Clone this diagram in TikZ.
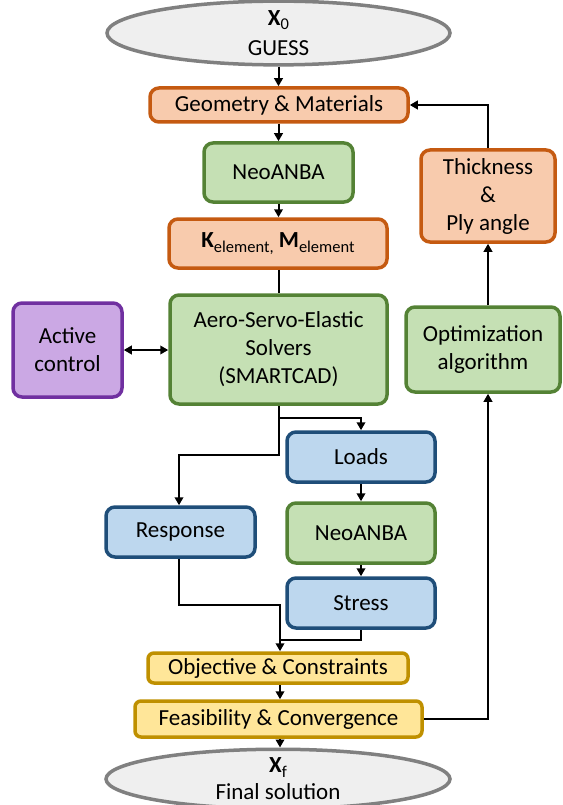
\documentclass[tikz,border=0pt]{standalone}
\usepackage{fontspec}
\setmainfont{Carlito}
\usetikzlibrary{shapes.geometric,arrows.meta}
\definecolor{orF}{HTML}{F8CBAD}\definecolor{orD}{HTML}{C55A11}
\definecolor{grF}{HTML}{C5E0B4}\definecolor{grD}{HTML}{548235}
\definecolor{blF}{HTML}{BDD7EE}\definecolor{blD}{HTML}{1F4E79}
\definecolor{puF}{HTML}{CBA8E4}\definecolor{puD}{HTML}{7030A0}
\definecolor{yeF}{HTML}{FFE699}\definecolor{yeD}{HTML}{BF9000}
\definecolor{elF}{HTML}{EFEFEF}\definecolor{elD}{HTML}{808080}
\newcommand{\mybox}[7]{\node[#6, minimum width={#4-#2}, minimum height={#5-#3}] (#1) at ({(#2+#4)/2},{(#3+#5)/2}) {#7};}
\newcommand{\sbs}[1]{\raisebox{-0.4ex}{\fontsize{16.5}{16.5}\selectfont #1}}
\begin{document}
\begin{tikzpicture}[x=1pt,y=-1pt,
  base/.style={draw, rounded corners=9pt, line width=3.5pt, align=center, inner sep=0pt, font=\fontsize{23}{28}\selectfont},
  orbox/.style={base, fill=orF, draw=orD},
  grbox/.style={base, fill=grF, draw=grD},
  blbox/.style={base, fill=blF, draw=blD},
  pubox/.style={base, fill=puF, draw=puD},
  yebox/.style={base, fill=yeF, draw=yeD, rounded corners=6pt},
  ell/.style={ellipse, draw=elD, fill=elF, line width=3.5pt, inner sep=0pt, align=center, font=\fontsize{23}{30}\selectfont},
  conn/.style={line width=2pt, -{Triangle[length=8pt,width=8.5pt]}},
  line/.style={line width=2pt}]
\useasboundingbox (0,0) rectangle (562,805);
\node[ell, minimum width=343, minimum height=56] (x0) at (278.5,33) {\textbf{X}\sbs{0}\\GUESS};
\mybox{geo}{150}{88}{408}{122}{orbox}{Geometry \& Materials}
\mybox{neo}{204}{143}{353}{202}{grbox}{NeoANBA}
\mybox{km}{169}{219}{387}{268}{orbox}{\textbf{K}\sbs{element,} \textbf{M}\sbs{element}}
\mybox{aero}{170}{295}{387}{404}{grbox}{Aero-Servo-Elastic\\Solvers\\(SMARTCAD)}
\mybox{act}{13}{303}{122}{397}{pubox}{Active\\control}
\mybox{thk}{421}{150}{555}{242}{orbox}{Thickness\\\&\\Ply angle}
\mybox{opt}{406}{307}{560}{392}{grbox}{Optimization\\algorithm}
\mybox{loads}{287}{432}{435}{482}{blbox}{Loads}
\mybox{neo2}{287}{503}{435}{563}{grbox}{NeoANBA}
\mybox{resp}{106}{507}{255}{557}{blbox}{Response}
\mybox{str}{287}{578}{435}{628}{blbox}{Stress}
\mybox{obj}{148}{653}{408}{683}{yebox}{Objective \& Constraints}
\mybox{fea}{135}{701}{422}{737}{yebox}{Feasibility \& Convergence}
\node[ell, minimum width=344, minimum height=56, font=\fontsize{23}{27}\selectfont] (xf) at (278,779) {\textbf{X}\sbs{f}\\Final solution};
\coordinate (split) at (279,418);
\coordinate (lsplit) at (279,455);
\coordinate (rmerge) at (179,605);
\coordinate (smerge) at (361,640);
\coordinate (merge) at (280,640);
\coordinate (rx) at (488,0);
\draw[conn] (x0.south) -- (x0.south |- geo.north);
\draw[conn] (neo.north |- geo.south) -- (neo.north);
\draw[conn] (neo.south) -- (neo.south |- km.north);
\draw[line] (km.south -| split) -- (aero.north -| split);
\draw[line, {Triangle[length=8pt,width=8.5pt]}-{Triangle[length=8pt,width=8.5pt]}] (act.east) -- (act.east -| aero.west);
\draw[line] (aero.south -| split) -- (split);
\draw[conn] (split) -- (split -| smerge) -- (loads.north -| smerge);
\draw[conn] (split) -- (lsplit) -- (lsplit -| rmerge) -- (resp.north -| rmerge);
\draw[conn] (loads.south -| smerge) -- (neo2.north -| smerge);
\draw[conn] (neo2.south -| smerge) -- (str.north -| smerge);
\draw[line] (resp.south -| rmerge) -- (rmerge) -- (rmerge -| merge) -- (merge);
\draw[line] (str.south -| smerge) -- (smerge) -- (merge);
\draw[conn] (merge) -- (merge |- obj.north);
\draw[conn] (obj.south -| merge) -- (fea.north -| merge);
\draw[conn] (fea.south -| merge) -- (xf.north -| merge);
\draw[conn] (fea.east) -- (fea.east -| rx) -- (opt.south -| rx);
\draw[conn] (opt.north -| rx) -- (thk.south -| rx);
\draw[conn] (thk.north -| rx) -- (geo.east -| rx) -- (geo.east);
\end{tikzpicture}
\end{document}
